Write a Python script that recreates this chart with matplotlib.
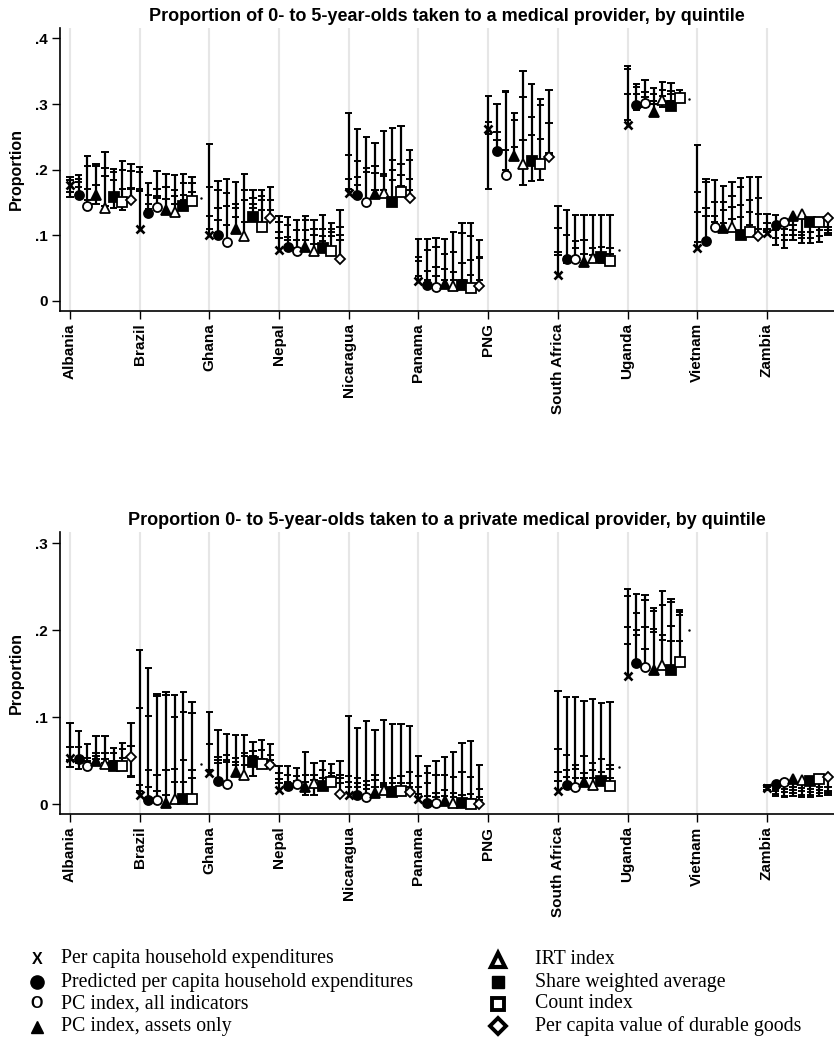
import matplotlib
matplotlib.use("Agg")
import matplotlib.pyplot as plt

countries = ["Albania", "Brazil", "Ghana", "Nepal", "Nicaragua", "Panama",
             "PNG", "South Africa", "Uganda", "Vietnam", "Zambia"]

methods = ["Per capita household expenditures",
           "Predicted per capita household expenditures",
           "PC index, all indicators",
           "PC index, assets only",
           "IRT index",
           "Share weighted average",
           "Count index",
           "Per capita value of durable goods"]

# one row per method: first value = poorest quintile (marker), then the other quintiles
med_albania = [[0.177, 0.188, 0.184, 0.166, 0.158], [0.161, 0.192, 0.186, 0.181, 0.174],
               [0.144, 0.221, 0.206, 0.171, 0.153], [0.161, 0.209, 0.206, 0.177, 0.148],
               [0.141, 0.227, 0.203, 0.190, 0.145], [0.158, 0.201, 0.197, 0.184, 0.141],
               [0.151, 0.213, 0.199, 0.170, 0.138], [0.154, 0.209, 0.198, 0.172, 0.170]]
med_brazil = [[0.109, 0.204, 0.196, 0.171, 0.168], [0.134, 0.179, 0.161, 0.148, 0.140],
              [0.143, 0.198, 0.171, 0.159, 0.156], [0.139, 0.193, 0.174, 0.155, 0.136],
              [0.136, 0.192, 0.169, 0.159, 0.148], [0.145, 0.193, 0.179, 0.161, 0.153],
              [0.152, 0.189, 0.180, 0.166, 0.156]]
med_ghana = [[0.101, 0.239, 0.173, 0.129, 0.110], [0.100, 0.183, 0.169, 0.141, 0.123],
             [0.090, 0.185, 0.164, 0.145, 0.115], [0.110, 0.181, 0.148, 0.141, 0.128],
             [0.099, 0.193, 0.169, 0.153, 0.120], [0.127, 0.169, 0.157, 0.148, 0.141],
             [0.112, 0.169, 0.159, 0.153, 0.138], [0.126, 0.174, 0.153, 0.138, 0.128]]
med_nepal = [[0.077, 0.129, 0.120, 0.105, 0.095], [0.082, 0.128, 0.115, 0.097, 0.092],
             [0.076, 0.123, 0.108, 0.093, 0.080], [0.082, 0.130, 0.123, 0.108, 0.093],
             [0.076, 0.123, 0.110, 0.100, 0.087], [0.081, 0.131, 0.110, 0.098, 0.091],
             [0.076, 0.119, 0.110, 0.105, 0.098], [0.063, 0.139, 0.113, 0.100, 0.092]]
med_nicaragua = [[0.164, 0.286, 0.222, 0.186, 0.170], [0.161, 0.262, 0.213, 0.188, 0.176],
                 [0.151, 0.250, 0.202, 0.197, 0.155], [0.163, 0.240, 0.205, 0.195, 0.169],
                 [0.165, 0.259, 0.193, 0.190, 0.169], [0.151, 0.263, 0.215, 0.199, 0.184],
                 [0.166, 0.266, 0.208, 0.192, 0.175], [0.157, 0.230, 0.214, 0.186, 0.169]]
med_panama = [[0.030, 0.094, 0.067, 0.060, 0.037], [0.024, 0.094, 0.077, 0.046, 0.032],
              [0.021, 0.096, 0.082, 0.052, 0.037], [0.026, 0.094, 0.072, 0.049, 0.032],
              [0.023, 0.105, 0.075, 0.044, 0.032], [0.024, 0.118, 0.103, 0.057, 0.032],
              [0.020, 0.119, 0.098, 0.062, 0.039], [0.022, 0.092, 0.067, 0.065, 0.032]]
med_png = [[0.262, 0.312, 0.273, 0.255, 0.171], [0.228, 0.300, 0.258, 0.245, 0.232],
           [0.192, 0.320, 0.319, 0.230, 0.200], [0.221, 0.286, 0.275, 0.235, 0.217],
           [0.208, 0.351, 0.310, 0.245, 0.177], [0.213, 0.330, 0.280, 0.253, 0.182],
           [0.209, 0.307, 0.298, 0.246, 0.184], [0.219, 0.322, 0.271, 0.225, 0.222]]
med_southafrica = [[0.039, 0.145, 0.111, 0.075, 0.070], [0.063, 0.138, 0.100, 0.067, 0.057],
                   [0.064, 0.131, 0.091, 0.080, 0.059], [0.059, 0.131, 0.092, 0.072, 0.057],
                   [0.065, 0.131, 0.080, 0.070, 0.062], [0.067, 0.131, 0.082, 0.070, 0.057],
                   [0.061, 0.131, 0.080, 0.072, 0.057]]
med_uganda = [[0.268, 0.358, 0.354, 0.316, 0.276], [0.298, 0.330, 0.326, 0.316, 0.291],
              [0.301, 0.336, 0.318, 0.311, 0.296], [0.288, 0.324, 0.316, 0.305, 0.300],
              [0.306, 0.334, 0.321, 0.313, 0.296], [0.297, 0.332, 0.320, 0.316, 0.305],
              [0.309, 0.321, 0.313, 0.311, 0.305]]
med_vietnam = [[0.081, 0.238, 0.166, 0.135, 0.090], [0.091, 0.185, 0.181, 0.141, 0.130],
               [0.112, 0.184, 0.151, 0.130, 0.120], [0.111, 0.175, 0.151, 0.138, 0.118],
               [0.112, 0.181, 0.159, 0.143, 0.125], [0.100, 0.187, 0.173, 0.146, 0.128],
               [0.105, 0.189, 0.153, 0.135, 0.115], [0.099, 0.188, 0.157, 0.132, 0.110]]
med_zambia = [[0.103, 0.133, 0.118, 0.110, 0.105], [0.116, 0.131, 0.108, 0.095, 0.085],
              [0.120, 0.110, 0.100, 0.093, 0.081], [0.129, 0.115, 0.108, 0.100, 0.093],
              [0.133, 0.105, 0.100, 0.095, 0.088], [0.120, 0.118, 0.105, 0.095, 0.088],
              [0.120, 0.118, 0.108, 0.098, 0.090], [0.126, 0.113, 0.108, 0.104, 0.100]]
med_missing = {"Brazil": 0.157, "South Africa": 0.078, "Uganda": 0.308}

priv_albania = [[0.053, 0.093, 0.066, 0.051, 0.043], [0.052, 0.084, 0.066, 0.048, 0.041],
                [0.044, 0.069, 0.053, 0.050, 0.046], [0.050, 0.078, 0.059, 0.055, 0.052],
                [0.046, 0.078, 0.059, 0.052, 0.048], [0.044, 0.065, 0.059, 0.050, 0.046],
                [0.044, 0.071, 0.064, 0.053, 0.048], [0.054, 0.094, 0.067, 0.032, 0.031]]
priv_brazil = [[0.011, 0.177, 0.111, 0.022, 0.015], [0.005, 0.157, 0.102, 0.039, 0.020],
               [0.005, 0.127, 0.125, 0.034, 0.015], [0.001, 0.129, 0.126, 0.039, 0.011],
               [0.006, 0.126, 0.100, 0.041, 0.026], [0.006, 0.129, 0.106, 0.051, 0.026],
               [0.006, 0.118, 0.105, 0.039, 0.030]]
priv_ghana = [[0.036, 0.106, 0.069, 0.040, 0.038], [0.027, 0.086, 0.054, 0.051, 0.047],
              [0.023, 0.081, 0.057, 0.051, 0.049], [0.037, 0.080, 0.053, 0.049, 0.045],
              [0.034, 0.080, 0.059, 0.056, 0.045], [0.049, 0.072, 0.061, 0.055, 0.032],
              [0.046, 0.074, 0.062, 0.052, 0.049], [0.045, 0.069, 0.057, 0.051, 0.048]]
priv_nepal = [[0.017, 0.044, 0.036, 0.029, 0.025], [0.021, 0.044, 0.034, 0.026, 0.024],
              [0.023, 0.042, 0.032, 0.027, 0.025], [0.020, 0.060, 0.034, 0.026, 0.011],
              [0.025, 0.048, 0.034, 0.028, 0.011], [0.021, 0.050, 0.040, 0.030, 0.026],
              [0.026, 0.046, 0.036, 0.032, 0.029], [0.012, 0.050, 0.034, 0.030, 0.025]]
priv_nicaragua = [[0.011, 0.102, 0.032, 0.026, 0.020], [0.011, 0.088, 0.030, 0.025, 0.020],
                  [0.009, 0.096, 0.027, 0.022, 0.018], [0.013, 0.086, 0.034, 0.028, 0.020],
                  [0.016, 0.097, 0.024, 0.022, 0.020], [0.014, 0.092, 0.030, 0.025, 0.020],
                  [0.015, 0.092, 0.032, 0.025, 0.020], [0.014, 0.090, 0.037, 0.025, 0.020]]
priv_panama = [[0.006, 0.055, 0.032, 0.020, 0.012], [0.002, 0.044, 0.036, 0.025, 0.010],
               [0.001, 0.050, 0.034, 0.013, 0.008], [0.004, 0.054, 0.034, 0.016, 0.010],
               [0.001, 0.060, 0.031, 0.013, 0.008], [0.001, 0.071, 0.037, 0.011, 0.006],
               [0.000, 0.073, 0.031, 0.012, 0.006], [0.000, 0.045, 0.018, 0.008, 0.005]]
priv_png = []
priv_southafrica = [[0.015, 0.130, 0.064, 0.037, 0.027], [0.022, 0.123, 0.057, 0.040, 0.031],
                    [0.020, 0.123, 0.045, 0.041, 0.030], [0.026, 0.119, 0.055, 0.036, 0.030],
                    [0.022, 0.121, 0.048, 0.040, 0.030], [0.027, 0.116, 0.052, 0.037, 0.029],
                    [0.021, 0.118, 0.045, 0.041, 0.030]]
priv_uganda = [[0.147, 0.247, 0.239, 0.204, 0.184], [0.162, 0.242, 0.220, 0.200, 0.195],
               [0.158, 0.240, 0.235, 0.204, 0.178], [0.154, 0.226, 0.222, 0.202, 0.198],
               [0.160, 0.245, 0.229, 0.195, 0.189], [0.154, 0.236, 0.232, 0.205, 0.188],
               [0.163, 0.223, 0.221, 0.218, 0.188]]
priv_vietnam = []
priv_zambia = [[0.019, 0.022, 0.020, 0.017, 0.016], [0.023, 0.018, 0.015, 0.012, 0.010],
               [0.026, 0.018, 0.014, 0.010, 0.008], [0.029, 0.020, 0.016, 0.013, 0.010],
               [0.028, 0.019, 0.015, 0.011, 0.008], [0.027, 0.018, 0.014, 0.011, 0.009],
               [0.029, 0.020, 0.016, 0.013, 0.010], [0.031, 0.020, 0.015, 0.013, 0.011]]
priv_missing = {"Brazil": 0.046, "South Africa": 0.043, "Uganda": 0.200}

med_data = [med_albania, med_brazil, med_ghana, med_nepal, med_nicaragua, med_panama,
            med_png, med_southafrica, med_uganda, med_vietnam, med_zambia]
priv_data = [priv_albania, priv_brazil, priv_ghana, priv_nepal, priv_nicaragua, priv_panama,
             priv_png, priv_southafrica, priv_uganda, priv_vietnam, priv_zambia]

# marker, facecolor, size
styles = [("x", "black", 5.5), ("o", "black", 6.5), ("o", "white", 6.5), ("^", "black", 7),
          ("^", "white", 7), ("s", "black", 6.5), ("s", "white", 6.5), ("D", "white", 4.8)]

sans = "Liberation Sans"
serif = "Liberation Serif"

fig = plt.figure(figsize=(8.34, 10.4), dpi=100)


def draw_panel(ax, data, missing, title, yticks, ylim):
    n = len(methods)
    for i, c in enumerate(countries):
        ax.axvline(i * n, color="#e6e6e6", lw=1.5, zorder=0)
        for j, vals in enumerate(data[i]):
            x = i * n + j
            ax.vlines(x, min(vals), max(vals), color="black", lw=1.6, zorder=2)
            ax.hlines(vals[1:], x - 0.42, x + 0.42, color="black", lw=1.4, zorder=2)
            m, fc, ms = styles[j]
            ax.plot(x, vals[0], marker=m, ms=ms, mfc=fc, mec="black",
                    mew=1.9 if m == "x" else 1.3, zorder=3, ls="none")
        if c in missing:
            ax.plot(i * n + len(data[i]), missing[c], marker=".", ms=1.5,
                    color="black", zorder=3)
    ax.set_xlim(-1.15, 87.7)
    ax.set_ylim(*ylim)
    ax.set_xticks([i * n for i in range(len(countries))])
    ax.set_xticklabels(countries, rotation=90, fontfamily=sans,
                       fontweight="bold", fontsize=11)
    ax.set_yticks(yticks)
    ax.set_yticklabels(["0" if v == 0 else ("%.1f" % v)[1:] for v in yticks],
                       fontfamily=sans, fontweight="bold", fontsize=11)
    ax.tick_params(length=6, width=1, pad=3, color="black")
    for s in ["top", "right"]:
        ax.spines[s].set_visible(False)
    ax.spines["left"].set_linewidth(1.2)
    ax.spines["bottom"].set_linewidth(1.2)
    ax.set_ylabel("Proportion", fontfamily=sans, fontweight="bold", fontsize=11.5,
                  labelpad=8)
    ax.set_title(title, fontfamily=sans, fontweight="bold", fontsize=13, pad=5)


ax1 = fig.add_axes([60 / 834, 1 - 310.7 / 1040, 774 / 834, 282.7 / 1040])
draw_panel(ax1, med_data, med_missing,
           "Proportion of 0- to 5-year-olds taken to a medical provider, by quintile",
           [0, 0.1, 0.2, 0.3, 0.4], (-0.0152, 0.416))

ax2 = fig.add_axes([60 / 834, 1 - 814 / 1040, 774 / 834, 282.3 / 1040])
draw_panel(ax2, priv_data, priv_missing,
           "Proportion 0- to 5-year-olds taken to a private medical provider, by quintile",
           [0, 0.1, 0.2, 0.3], (-0.0111, 0.3133))

# legend keys, laid out in pixel coordinates
lg = fig.add_axes([0, 0, 1, 1])
lg.set_xlim(0, 834)
lg.set_ylim(1040, 0)
lg.axis("off")
rows = [959, 982, 1004, 1026]
cols = [(37, 61), (498, 535)]
for k, label in enumerate(methods):
    kx, tx = cols[k // 4]
    ky = rows[k % 4]
    if k == 0:
        lg.text(kx, ky, "X", fontfamily=sans, fontweight="bold", fontsize=11.5,
                ha="center", va="center")
    elif k == 2:
        lg.text(kx, ky, "O", fontfamily=sans, fontweight="bold", fontsize=11.5,
                ha="center", va="center")
    elif k == 1:
        lg.plot(kx, ky, marker="o", ms=9.5, color="black")
    elif k == 3:
        lg.plot(kx, ky + 1, marker="^", ms=8.5, color="black")
    elif k == 4:
        lg.plot(kx, ky + 1, marker="^", ms=9.5, mfc="white", mec="black", mew=3)
    elif k == 5:
        lg.plot(kx, ky, marker="s", ms=9, color="black")
    elif k == 6:
        lg.plot(kx, ky, marker="s", ms=9, mfc="white", mec="black", mew=2.8)
    else:
        lg.plot(kx, ky, marker="D", ms=8.5, mfc="white", mec="black", mew=2.8)
    lg.text(tx, ky, label, fontfamily=serif, fontsize=14.3, ha="left", va="center")

fig.savefig("out.png", dpi=100)
